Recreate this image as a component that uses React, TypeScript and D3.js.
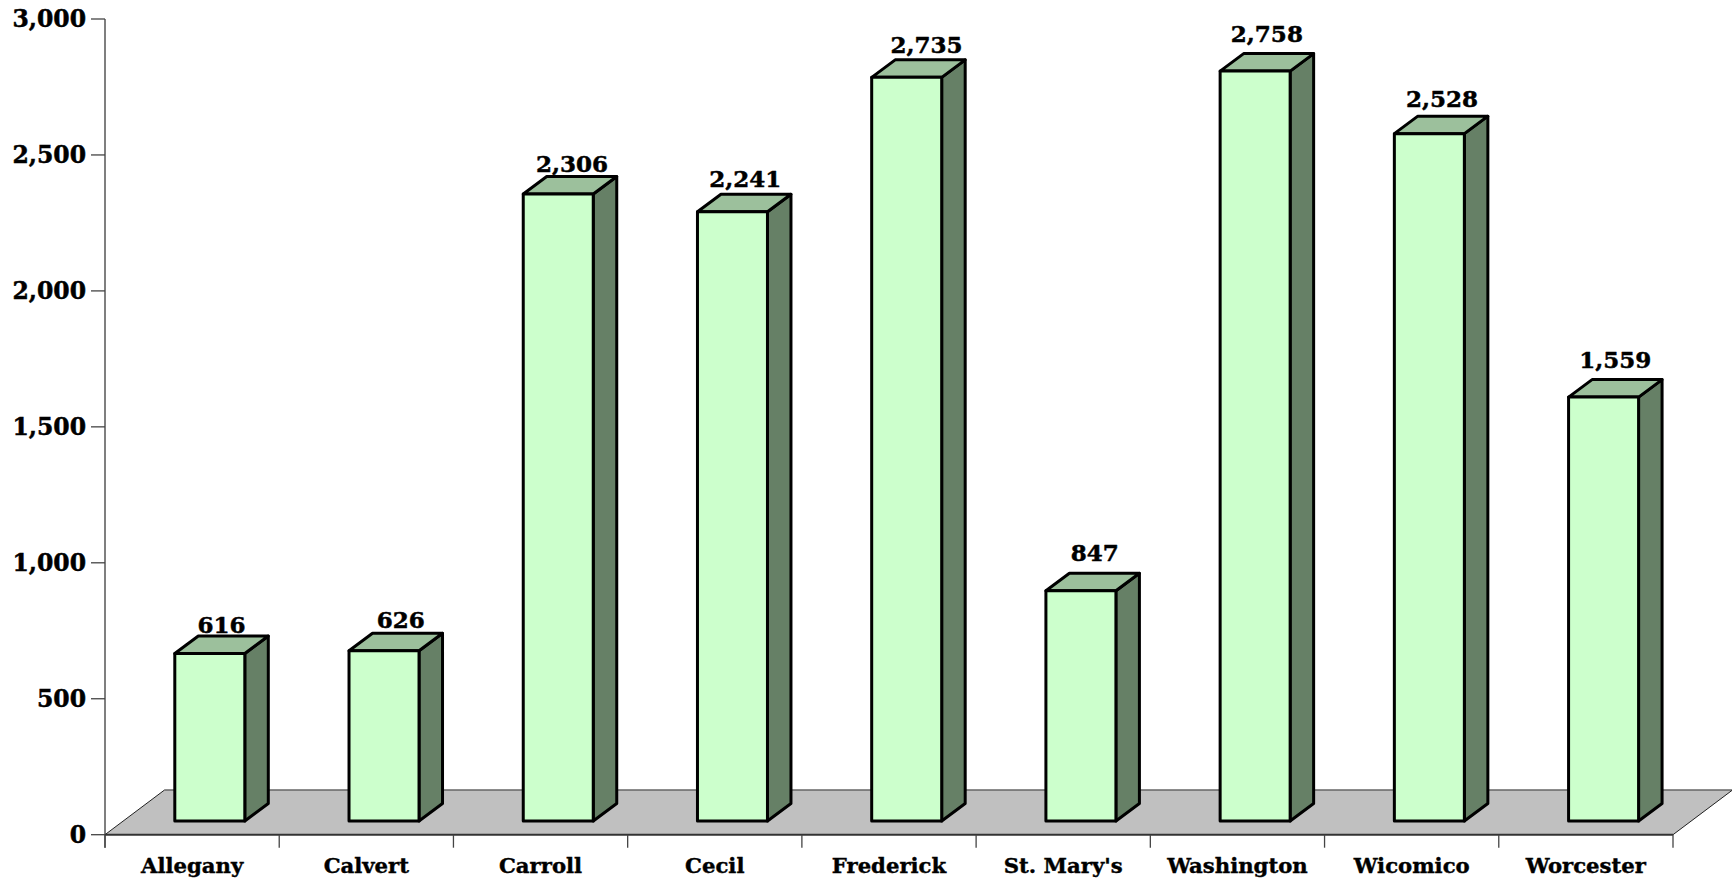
import React from "react";
import * as d3 from "d3";

const counties = ["Allegany", "Calvert", "Carroll", "Cecil", "Frederick", "St. Mary's", "Washington", "Wicomico", "Worcester"];
const values = [616, 626, 2306, 2241, 2735, 847, 2758, 2528, 1559];
const yTicks = [0, 500, 1000, 1500, 2000, 2500, 3000];
// placement of each value label relative to its bar, px
const labelLift = [3, 5, 4, 7, 7, 12, 12, 9, 12];
const labelShift = [0, 5, 2, 1, 8, 2, 0, 1, 0];

const FONT = "'DejaVu Serif', serif";

export default function App() {
  const y = d3.scaleLinear().domain([0, 3000]).range([834.7, 19]);
  const x = d3.scaleBand<string>().domain(counties).range([105, 1673]);
  const base = y(0);
  const bottom = 821;
  const h = (v: number) => base - y(v);
  const sideDx = 23.5, sideDy = 17.5, floorDx = 59.5, floorDy = 44.7;
  const bw = 70;
  const fmt = d3.format(",");
  const poly = d3.line();
  return (
    <svg width={1732} height={882} style={{ position: "fixed", left: 0, top: 0, background: "#fff" }} fontFamily={FONT} fontWeight="bold">
      <path d={`M105,${base}L${105 + floorDx},${base - floorDy}L${1673 + floorDx},${base - floorDy}L1673,${base}Z`} fill="#c0c0c0" />
      <path d={`M${105 + floorDx},${base - floorDy}H${1673 + floorDx}`} stroke="#666" strokeWidth={1.5} fill="none" />
      <path d={`M105,${base}L${105 + floorDx},${base - floorDy}M1673,${base}L${1673 + floorDx},${base - floorDy}`} stroke="#222" strokeWidth={1} fill="none" />
      <path d={`M105,19V${base + 13}`} stroke="#555" strokeWidth={1.5} fill="none" />
      <path d={`M105,${base}H1673`} stroke="#333" strokeWidth={2} fill="none" />
      {yTicks.map((t) => (
        <g key={t}>
          <line x1={91} x2={105} y1={y(t)} y2={y(t)} stroke="#444" strokeWidth={1.3} />
          <text x={86} y={y(t) + 8} textAnchor="end" fontSize={23.5} fill="#000" stroke="#000" strokeWidth={0.5}>{fmt(t)}</text>
        </g>
      ))}
      {[...counties.map((c) => x(c)!), 1673].map((t, i) => (
        <line key={i} x1={t} x2={t} y1={base} y2={base + 13} stroke="#444" strokeWidth={1.3} />
      ))}
      {counties.map((c) => (
        <text key={c} x={x(c)! + x.bandwidth() / 2} y={873} textAnchor="middle" fontSize={21.2} fill="#000" stroke="#000" strokeWidth={0.4}>{c}</text>
      ))}
      {counties.map((c, i) => {
        const v = values[i];
        const l = x(c)! + 69.8;
        const r = l + bw;
        const t = bottom - h(v);
        return (
          <g key={c} stroke="#000" strokeWidth={3} strokeLinejoin="round">
            <path d={poly([[r, bottom], [r + sideDx, bottom - sideDy], [r + sideDx, t - sideDy], [r, t]])! + "Z"} fill="#668066" />
            <path d={poly([[l, t], [l + sideDx, t - sideDy], [r + sideDx, t - sideDy], [r, t]])! + "Z"} fill="#9cc09c" />
            <rect x={l} y={t} width={bw} height={h(v)} fill="#ccffcc" />
            <text x={(l + r + sideDx) / 2 + labelShift[i]} y={t - sideDy - labelLift[i]} textAnchor="middle" fontSize={23} fill="#000" stroke="#000" strokeWidth={0.5}>{fmt(v)}</text>
          </g>
        );
      })}
    </svg>
  );
}
